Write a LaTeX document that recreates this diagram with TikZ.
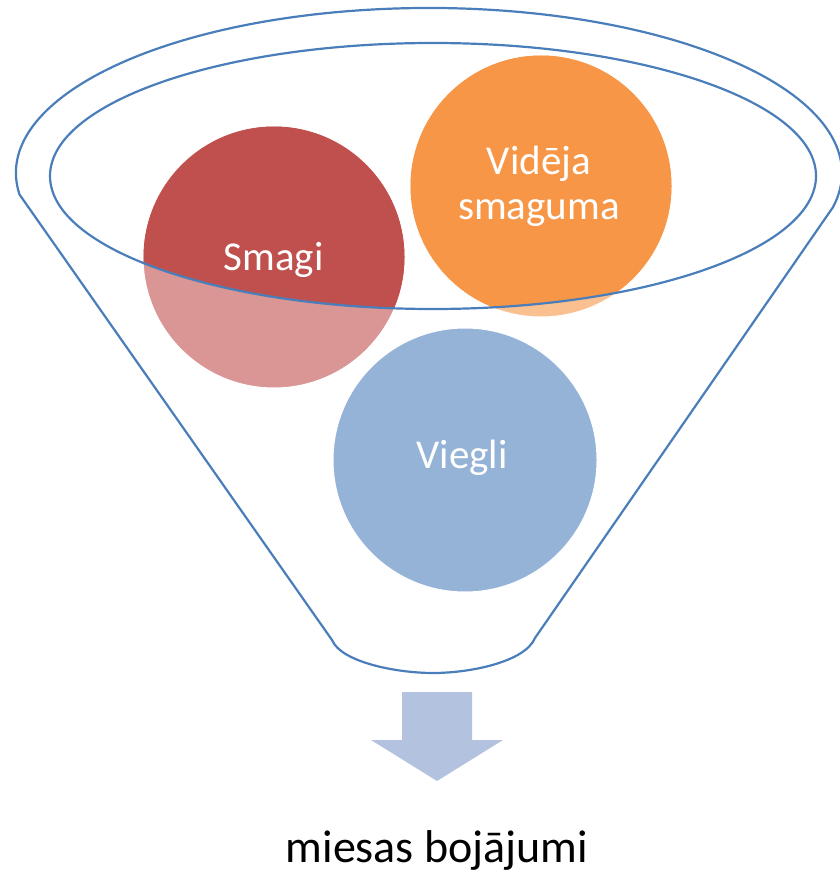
\documentclass[tikz,border=0pt]{standalone}
\usepackage{fontspec}
\setmainfont{Carlito}
\definecolor{rim}{HTML}{4A7EBB}
\definecolor{redD}{HTML}{C0504D}
\definecolor{redL}{HTML}{D99694}
\definecolor{orD}{HTML}{F79646}
\definecolor{orL}{HTML}{FAC090}
\definecolor{blu}{HTML}{95B3D7}
\definecolor{arr}{HTML}{B3C3DF}
\begin{document}
\begin{tikzpicture}[x=1pt,y=-1pt,
  rimline/.style={draw=rim,line width=2.2pt,line join=round},
  ball/.style={circle,minimum size=262pt,inner sep=0pt,draw=white,line width=1pt},
  lbl/.style={text=white,font=\fontsize{41}{45}\selectfont,inner sep=0pt},
  caption/.style={text=black,font=\fontsize{46}{50}\selectfont,inner sep=0pt}]
\useasboundingbox (0,0) rectangle (839,877);
% funnel body outline
\coordinate (fl) at (19.5,194.5);
\coordinate (fbr) at (535,638);
\coordinate (fbl) at (332,640);
\draw[rimline] (fl) arc[start angle=172.5, end angle=372, x radius=413, y radius=165]
  -- (fbr) .. controls (525,662) and (470,673) .. (433,673)
  .. controls (396,673) and (341,662) .. (fbl) -- cycle;
% circles
\node[ball,fill=redL] (smagi) at (274,257) {};
\node[ball,fill=orL] (videja) at (541,186) {};
\node[ball,fill=blu,minimum size=264pt] (viegli) at (465,460) {};
\begin{scope}
  \clip (433,176) ellipse[x radius=383, y radius=133];
  \fill[redD] (smagi.center) circle[radius=130.5];
  \fill[orD] (videja.center) circle[radius=130.5];
\end{scope}
% inner rim
\draw[rimline] (433,176) ellipse[x radius=383, y radius=133];
% labels
\node[lbl,anchor=base] (tsmagi) at (273.5,270) {Smagi};
\node[lbl,anchor=base] (tvid1) at (539,175) {Vidēja};
\node[lbl,anchor=base] (tvid2) at (539,220) {smaguma};
\node[lbl,anchor=base] (tviegli) at (462,468) {Viegli};
% arrow
\fill[arr] (402,692) -- (472,692) -- (472,740) -- (503,740) -- (437,781)
  -- (371,740) -- (402,740) -- cycle;
\node[caption,anchor=base] (cap) at (437,862) {miesas bojājumi};
\end{tikzpicture}
\end{document}
